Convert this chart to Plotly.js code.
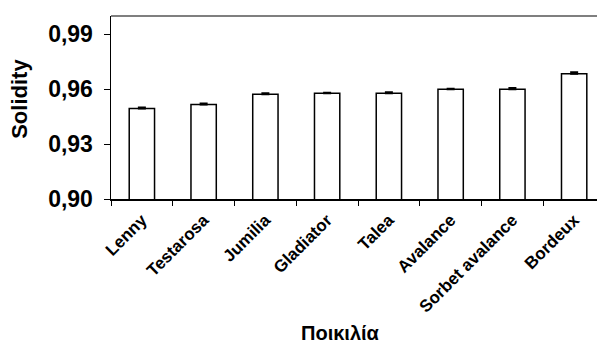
<!DOCTYPE html>
<html>
<head>
<meta charset="utf-8">
<script src="https://cdn.plot.ly/plotly-3.0.1.min.js"></script>
<style>html,body{margin:0;padding:0;background:#fff;}#chart{width:597px;height:347px;}</style>
</head>
<body>
<div id="chart"></div>
<script>
var categories = ["Lenny", "Testarosa", "Jumilia", "Gladiator", "Talea", "Avalance", "Sorbet avalance", "Bordeux"];
var solidity = [0.9494, 0.9516, 0.9573, 0.9578, 0.9578, 0.9600, 0.9600, 0.9685];
var stdError = [0.0006, 0.0006, 0.0005, 0.0002, 0.0006, 0.0002, 0.0006, 0.0007];
var yTicks = [0.90, 0.93, 0.96, 0.99];

var font = "Arial, 'Liberation Sans', sans-serif";

var trace = {
  type: "bar",
  x: categories,
  y: solidity,
  width: 0.41,
  marker: {color: "#ffffff", line: {color: "#000000", width: 1.5}},
  error_y: {type: "data", symmetric: false, array: stdError, arrayminus: stdError.map(function(){return 0;}),
            color: "#000000", thickness: 2, width: 4},
  hoverinfo: "x+y"
};

var layout = {
  width: 597, height: 347,
  margin: {l: 111, r: 0, t: 16, b: 148, pad: 0},
  paper_bgcolor: "#ffffff", plot_bgcolor: "#ffffff",
  separators: ",.",
  showlegend: false,
  xaxis: {
    type: "category",
    range: [-0.5, 7.37],
    tickson: "boundaries",
    ticks: "outside", ticklen: 5, tickwidth: 1, tickcolor: "#000",
    showline: true, linecolor: "#000", linewidth: 1.5,
    showgrid: false, zeroline: false,
    tickangle: -45,
    ticklabelstandoff: 3,
    tickfont: {family: font, size: 17, color: "#000", weight: "bold"}
  },
  yaxis: {
    range: [0.90, 1.00],
    tickvals: yTicks,
    tickformat: ".2f",
    ticks: "outside", ticklen: 6, tickwidth: 1, tickcolor: "#000",
    showline: true, linecolor: "#000", linewidth: 1.5,
    showgrid: false, zeroline: false,
    ticklabelstandoff: 6,
    tickfont: {family: font, size: 23, color: "#000", weight: "bold"}
  },
  shapes: [{type: "line", xref: "paper", yref: "paper", x0: 0, x1: 1, y0: 1, y1: 1,
            line: {color: "#555555", width: 1.5}}],
  annotations: [
    {text: "Solidity", xref: "paper", yref: "paper", x: -0.187, y: 0.548, xanchor: "center", yanchor: "middle",
     textangle: -90, showarrow: false, font: {family: font, size: 22, color: "#000", weight: "bold"}},
    {text: "Ποικιλία", xref: "paper", yref: "paper", x: 0.472, y: -0.734, xanchor: "center", yanchor: "middle",
     showarrow: false, font: {family: font, size: 20, color: "#000", weight: "bold"}}
  ]
};

Plotly.newPlot("chart", [trace], layout, {staticPlot: true, displayModeBar: false});
</script>
</body>
</html>
